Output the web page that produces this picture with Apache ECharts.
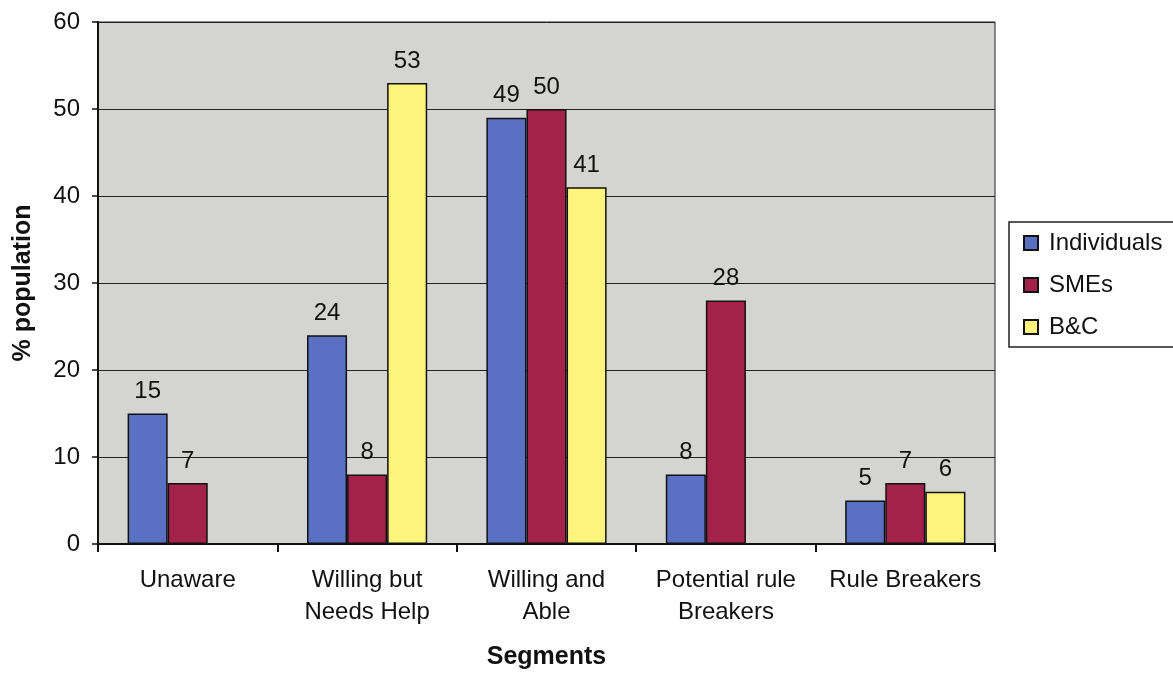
<!DOCTYPE html>
<html>
<head>
<meta charset="utf-8">
<script src="https://cdn.jsdelivr.net/npm/echarts@6/dist/echarts.min.js"></script>
<style>
  html, body { margin: 0; padding: 0; background: #ffffff; }
  #chart { width: 1173px; height: 673px; }
</style>
</head>
<body>
<div id="chart"></div>
<script>
// Segment categories along the x axis
const categories = ['Unaware', 'Willing but\nNeeds Help', 'Willing and\nAble', 'Potential rule\nBreakers', 'Rule Breakers'];
// % population per segment for each group (null = no bar)
const individuals = [15, 24, 49, 8, 5];
const smes = [7, 8, 50, 28, 7];
const bandc = [null, 53, 41, null, 6];

const FONT = '"Liberation Sans", Arial, Helvetica, sans-serif';

function barSeries(name, data, color) {
  return {
    name: name,
    type: 'bar',
    data: data,
    barGap: '0%',
    barCategoryGap: '33%',
    itemStyle: { color: color, borderColor: '#111', borderWidth: 1.5 },
    label: {
      show: true,
      position: 'top',
      distance: 10,
      fontSize: 24,
      color: '#111',
      fontFamily: FONT
    }
  };
}

const chart = echarts.init(document.getElementById('chart'), null, { renderer: 'canvas' });
chart.setOption({
  backgroundColor: '#ffffff',
  animation: false,
  textStyle: { fontFamily: FONT },
  grid: {
    left: 98, right: 178, top: 22, bottom: 129,
    outerBoundsMode: 'none',
    containLabel: false,
    show: true,
    backgroundColor: '#d4d4d2',
    borderColor: '#222',
    borderWidth: 1
  },
  legend: {
    orient: 'vertical',
    left: 1009,
    top: 222,
    padding: [9, 40, 8, 14],
    itemGap: 18,
    itemWidth: 14,
    itemHeight: 14,
    icon: 'rect',
    borderColor: '#222',
    borderWidth: 1.5,
    textStyle: { fontSize: 24, color: '#111', fontFamily: FONT, lineHeight: 24, padding: [0, 0, 0, 6] },
    data: ['Individuals', 'SMEs', 'B&C']
  },
  xAxis: {
    type: 'category',
    data: categories,
    name: 'Segments',
    nameLocation: 'middle',
    nameGap: 101,
    nameTextStyle: { fontSize: 25, fontWeight: 'bold', color: '#111', fontFamily: FONT },
    axisLine: { lineStyle: { color: '#111', width: 2 } },
    axisTick: { show: true, length: 8, lineStyle: { color: '#111', width: 2 } },
    axisLabel: { fontSize: 24, color: '#111', lineHeight: 32, margin: 20, interval: 0, fontFamily: FONT }
  },
  yAxis: {
    type: 'value',
    min: 0,
    max: 60,
    interval: 10,
    name: '% population',
    nameLocation: 'middle',
    nameGap: 62,
    nameTextStyle: { fontSize: 25, fontWeight: 'bold', color: '#111', fontFamily: FONT },
    axisLine: { show: true, lineStyle: { color: '#111', width: 2 } },
    axisTick: { show: true, length: 6, lineStyle: { color: '#111', width: 1.5 } },
    axisLabel: { fontSize: 24, color: '#111', margin: 18, fontFamily: FONT },
    splitLine: { show: true, lineStyle: { color: '#222', width: 1 } }
  },
  series: [
    barSeries('Individuals', individuals, '#5a70c2'),
    barSeries('SMEs', smes, '#a3214b'),
    barSeries('B&C', bandc, '#fdf47c')
  ]
});
</script>
</body>
</html>
